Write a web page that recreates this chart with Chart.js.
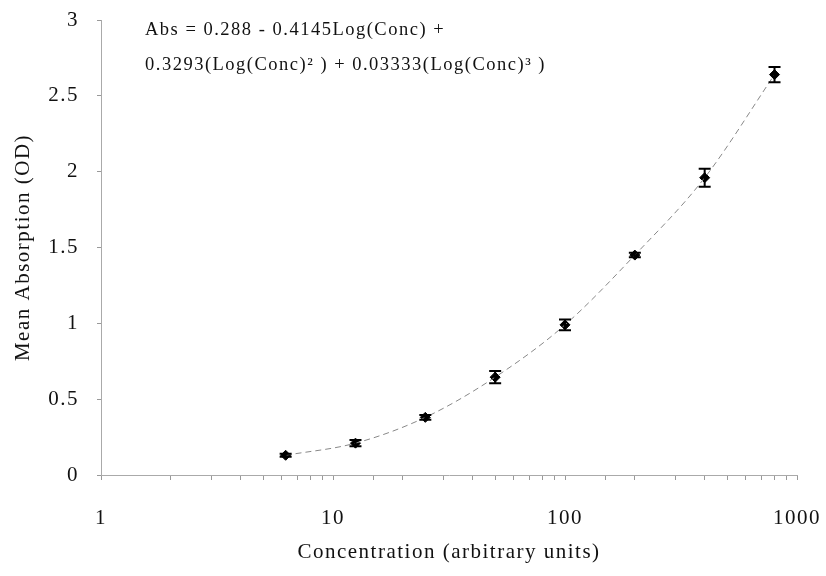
<!DOCTYPE html>
<html>
<head>
<meta charset="utf-8">
<script src="https://cdn.jsdelivr.net/npm/chart.js@4/dist/chart.umd.min.js"></script>
<style>
  body { margin: 0; background: #fff; }
  #wrap { width: 826px; height: 576px; }
</style>
</head>
<body>
<div id="wrap"><canvas id="myChart"></canvas></div>
<script>
// data
const concentrations = [6.25, 12.5, 25, 50, 100, 200, 400, 800];
const meanAbs = [0.13, 0.21, 0.38, 0.645, 0.99, 1.45, 1.96, 2.64];
const errors = [0.01, 0.02, 0.015, 0.04, 0.035, 0.015, 0.06, 0.05];
const xTickLabels = [1, 10, 100, 1000];
const equationLines = [
  "Abs = 0.288 - 0.4145Log(Conc) +",
  "0.3293(Log(Conc)\u00B2 ) + 0.03333(Log(Conc)\u00B3 )",
];

const points = concentrations.map((c, i) => ({ x: c, y: meanAbs[i] }));
const serif = "'Liberation Serif', 'DejaVu Serif', serif";

// the scanned text is spaced out a bit
const spacing = {
  id: "spacing",
  beforeLayout(chart) { chart.ctx.letterSpacing = "1.5px"; },
  beforeDraw(chart) { chart.ctx.letterSpacing = "1.5px"; },
};

// error bars + equation text
const extras = {
  id: "extras",
  afterDatasetsDraw(chart) {
    const { ctx, scales } = chart;
    ctx.save();
    ctx.strokeStyle = "#000";
    ctx.lineWidth = 2;
    points.forEach((p, i) => {
      const x = scales.x.getPixelForValue(p.x);
      const top = scales.y.getPixelForValue(p.y + errors[i]);
      const bot = scales.y.getPixelForValue(p.y - errors[i]);
      ctx.beginPath();
      ctx.moveTo(x, top); ctx.lineTo(x, bot);
      ctx.moveTo(x - 6, top); ctx.lineTo(x + 6, top);
      ctx.moveTo(x - 6, bot); ctx.lineTo(x + 6, bot);
      ctx.stroke();
    });
    ctx.fillStyle = "#111";
    ctx.font = "18.5px " + serif;
    ctx.textBaseline = "middle";
    ctx.fillText(equationLines[0], 145, 30);
    ctx.fillText(equationLines[1], 145, 65);
    ctx.restore();
  },
};

const ctx = document.getElementById("myChart").getContext("2d");
const myChart = new Chart(ctx, {
  type: "scatter",
  data: {
    datasets: [
      {
        label: "fit",
        data: points,
        showLine: true,
        pointRadius: 0,
        borderColor: "#888",
        borderWidth: 1,
        borderDash: [6, 4],
        cubicInterpolationMode: "monotone",
      },
      {
        label: "mean",
        data: points,
        pointStyle: "rectRot",
        pointRadius: 5,
        backgroundColor: "#000",
        borderColor: "#000",
      },
    ],
  },
  options: {
    responsive: true,
    maintainAspectRatio: false,
    animation: false,
    layout: { padding: { top: 20, right: 29, left: 0, bottom: 0 } },
    plugins: { legend: { display: false }, tooltip: { enabled: false } },
    scales: {
      x: {
        type: "logarithmic",
        min: 1,
        max: 1000,
        afterFit: (s) => { s.height = 101; s.paddingLeft = 0; s.paddingRight = 0; },
        border: { display: true, color: "#aaa", dash: [10, 6] },
        grid: { drawOnChartArea: false, tickLength: 5, color: "#999" },
        ticks: {
          autoSkip: false,
          maxRotation: 0,
          padding: 26,
          color: "#111",
          font: { family: serif, size: 21 },
          callback: (v) => (xTickLabels.includes(v) ? String(v) : ""),
        },
        title: {
          display: true,
          text: "Concentration (arbitrary units)",
          color: "#111",
          font: { family: serif, size: 21 },
          padding: { top: 4, bottom: 11 },
        },
      },
      y: {
        min: 0,
        max: 3,
        afterFit: (s) => { s.width = 101; s.paddingTop = 0; s.paddingBottom = 0; },
        border: { display: true, color: "#aaa", dash: [10, 6] },
        grid: { drawOnChartArea: false, tickLength: 4, color: "#999" },
        ticks: {
          stepSize: 0.5,
          padding: 18,
          color: "#111",
          font: { family: serif, size: 21 },
          callback: (v) => String(v),
        },
        title: {
          display: true,
          text: "Mean Absorption (OD)",
          color: "#111",
          font: { family: serif, size: 21 },
          padding: { top: 11, bottom: 4 },
        },
      },
    },
  },
  plugins: [spacing, extras],
});
</script>
</body>
</html>
